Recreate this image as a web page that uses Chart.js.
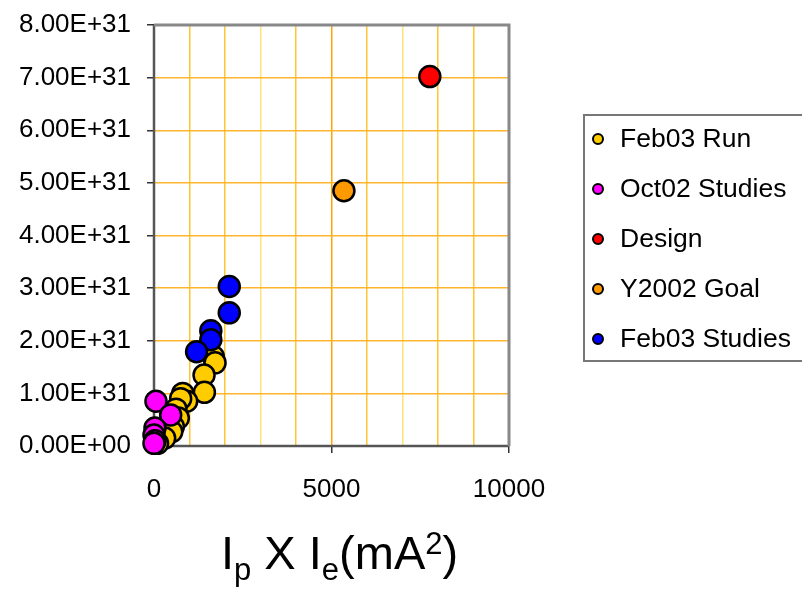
<!DOCTYPE html>
<html>
<head>
<meta charset="utf-8">
<script src="https://cdn.jsdelivr.net/npm/chart.js@4.4.0/dist/chart.umd.min.js"></script>
<style>
  html, body { margin: 0; padding: 0; background: #fff; }
  #wrap { position: relative; width: 802px; height: 590px; overflow: hidden; font-family: 'Liberation Sans', Arial, sans-serif; }
  #legend {
    position: absolute; left: 583px; top: 114px; width: 260px; height: 248px;
    border: 2px solid #777; border-right: none; box-sizing: border-box;
  }
  .item { position: absolute; left: 0; height: 30px; line-height: 30px; font-size: 26.5px; color: #000; white-space: nowrap; }
  .dot { position: absolute; left: 7px; top: 10px; width: 8px; height: 8px; border: 2px solid #000; border-radius: 50%; }
  .lbl { position: absolute; left: 35px; top: 0; }
  #xtitle { position: absolute; left: 221px; top: 527px; font-size: 47px; line-height: 52px; color: #000; white-space: nowrap; }
  #xtitle sub { font-size: 31px; vertical-align: -11px; line-height: 0; }
  #xtitle sup { font-size: 31px; vertical-align: 15px; line-height: 0; }
</style>
</head>
<body>
<div id="wrap">
  <canvas id="chart" width="802" height="590"></canvas>
  <div id="legend"></div>
  <div id="xtitle">I<sub>p</sub> X I<sub>e</sub>(mA<sup>2</sup>)</div>
</div>
<script>
// ── DATA ────────────────────────────────────────────────────────────────────
const seriesNames  = ['Feb03 Run', 'Oct02 Studies', 'Design', 'Y2002 Goal', 'Feb03 Studies'];
const seriesColors = ['#FFCC00', '#FF00FF', '#FF0000', '#FF9900', '#0000FF'];

// Ip x Ie (mA^2) and luminosity values
const feb03RunX = [1670, 1720, 1410, 1420, 810, 920, 750, 620, 685, 545, 500, 300, 100];
const feb03RunY = [1.70e31, 1.58e31, 1.35e31, 1.02e31, 1.00e31, 0.85e31, 0.90e31, 0.70e31, 0.53e31, 0.37e31, 0.27e31, 0.15e31, 0.05e31];

const oct02X = [56, 470, 28, 0, 30, 0];
const oct02Y = [0.85e31, 0.59e31, 0.34e31, 0.21e31, 0.10e31, 0.05e31];

const designX = [7770];
const designY = [7.02e31];

const goalX = [5350];
const goalY = [4.85e31];

const feb03StudiesX = [2120, 2120, 1600, 1600, 1200];
const feb03StudiesY = [3.03e31, 2.53e31, 2.19e31, 2.02e31, 1.79e31];

const xTickLabels = ['0', '5000', '10000'];
const yMax = 8e31;
const xMax = 10000;

// ── HELPERS ─────────────────────────────────────────────────────────────────
function toPoints(xs, ys) {
  return xs.map((x, i) => ({ x, y: ys[i] }));
}

function sciLabel(v) {
  const s = Number(v).toExponential(2).toUpperCase();
  const [m, e] = s.split('E');
  const sign = e[0] === '-' ? '-' : '+';
  return m + 'E' + sign + e.replace(/^[+-]/, '').padStart(2, '0');
}

const seriesData = [
  toPoints(feb03RunX, feb03RunY),
  toPoints(oct02X, oct02Y),
  toPoints(designX, designY),
  toPoints(goalX, goalY),
  toPoints(feb03StudiesX, feb03StudiesY)
];

// later series drawn on top, like the original
const datasets = seriesNames.map((name, i) => ({
  label: name,
  data: seriesData[i],
  backgroundColor: seriesColors[i],
  borderColor: '#000',
  borderWidth: 2.5,
  pointRadius: 10.5,
  pointHoverRadius: 10.5,
  clip: false,
  order: seriesNames.length - i
}));

// plot frame: dark axes under the points, grey top / right edges
const framePlugin = {
  id: 'frame',
  beforeDatasetsDraw(chart) {
    const { ctx, chartArea: a } = chart;
    ctx.save();
    ctx.strokeStyle = '#555';
    ctx.lineWidth = 2.5;
    ctx.beginPath();
    ctx.moveTo(a.left, a.top);
    ctx.lineTo(a.left, a.bottom);
    ctx.lineTo(a.right, a.bottom);
    ctx.stroke();
    ctx.restore();
  },
  afterDatasetsDraw(chart) {
    const { ctx, chartArea: a } = chart;
    ctx.save();
    ctx.strokeStyle = '#888';
    ctx.lineWidth = 3;
    ctx.beginPath();
    ctx.moveTo(a.left, a.top);
    ctx.lineTo(a.right, a.top);
    ctx.lineTo(a.right, a.bottom);
    ctx.stroke();
    ctx.restore();
  }
};

const font = { family: "'Liberation Sans', Arial, sans-serif", size: 26 };

new Chart(document.getElementById('chart').getContext('2d'), {
  type: 'scatter',
  data: { datasets },
  options: {
    responsive: false,
    animation: false,
    devicePixelRatio: 1,
    layout: { padding: { left: 0, top: 25, right: 293, bottom: 84 } },
    plugins: {
      legend: { display: false },
      tooltip: { enabled: false }
    },
    scales: {
      x: {
        type: 'linear',
        min: 0,
        max: xMax,
        afterFit: s => { s.height = 60; s.paddingLeft = 0; s.paddingRight = 0; },
        ticks: {
          stepSize: 1000,
          autoSkip: false,
          maxRotation: 0,
          padding: 21,
          color: '#000',
          font,
          callback: v => (v % 5000 === 0 ? xTickLabels[v / 5000] : '')
        },
        grid: {
          color: c => {
            const v = c.tick && c.tick.value;
            if (v === 5000) return '#FFA500';
            if (v === 3000 || v === 7000) return '#FFE27A';
            return '#FFC633';
          },
          lineWidth: 1.5,
          tickLength: 7,
          tickColor: c => (c.tick && c.tick.value % 5000 === 0 ? '#333' : 'rgba(0,0,0,0)')
        },
        border: { display: false }
      },
      y: {
        type: 'linear',
        min: 0,
        max: yMax,
        afterFit: s => { s.width = 154; s.paddingTop = 0; s.paddingBottom = 0; },
        ticks: {
          stepSize: 1e31,
          padding: 16,
          color: '#000',
          font,
          callback: v => sciLabel(v)
        },
        grid: {
          color: '#FFB52E',
          lineWidth: 1.5,
          tickLength: 7,
          tickColor: '#333'
        },
        border: { display: false }
      }
    }
  },
  plugins: [framePlugin]
});

// ── LEGEND ──────────────────────────────────────────────────────────────────
const legendEl = document.getElementById('legend');
seriesNames.forEach((name, i) => {
  const item = document.createElement('div');
  item.className = 'item';
  item.style.top = (7 + i * 50) + 'px';
  item.innerHTML = `<span class="dot" style="background:${seriesColors[i]}"></span><span class="lbl">${name}</span>`;
  legendEl.appendChild(item);
});
</script>
</body>
</html>
